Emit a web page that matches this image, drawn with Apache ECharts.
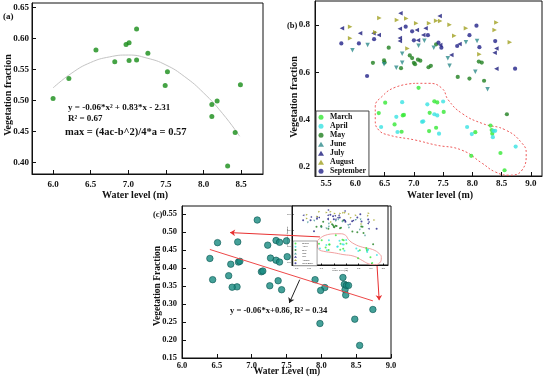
<!DOCTYPE html>
<html><head><meta charset="utf-8">
<script src="https://cdn.jsdelivr.net/npm/echarts@6/dist/echarts.min.js"></script>
<style>html,body{margin:0;padding:0;background:#fff}#c{width:550px;height:378px}</style>
</head><body><div id="c"></div>
<script>
// ---------- Panel (a) ----------
const aX = [6.00,6.21,6.57,6.82,6.97,7.01,7.01,7.11,7.11,7.26,7.49,7.52,8.11,8.11,8.18,8.32,8.42,8.49];
const aY = [0.503,0.535,0.581,0.562,0.590,0.593,0.564,0.615,0.565,0.576,0.524,0.546,0.474,0.493,0.499,0.394,0.448,0.525];
const aFitX = [6.00,6.25,6.50,6.75,7.00,7.25,7.50,7.75,8.00,8.25,8.48];
const aFitY = [0.520,0.544,0.561,0.570,0.573,0.568,0.557,0.538,0.512,0.479,0.442];
const aXTicks = [6.0,6.5,7.0,7.5,8.0,8.5];
const aYTicks = [0.40,0.45,0.50,0.55,0.60,0.65];

// ---------- Panel (b) ----------
const months = ['March','April','May','June','July','August','September'];
const marchX = [6.40,6.51,6.67,6.79,6.81,6.83,7.08,7.26,7.27,7.35,7.40,7.38,7.51,8.05,7.98,8.31,8.33,8.34,8.48,8.55];
const marchY = [0.427,0.471,0.379,0.348,0.417,0.419,0.534,0.351,0.428,0.477,0.472,0.365,0.432,0.346,0.246,0.374,0.355,0.340,0.258,0.185];
const aprilX = [6.44,6.70,6.72,6.80,7.14,7.16,7.23,7.35,7.40,7.43,7.50,7.91,7.99,8.36,8.39,8.35,8.74];
const aprilY = [0.368,0.411,0.347,0.473,0.390,0.392,0.464,0.422,0.417,0.340,0.476,0.368,0.338,0.352,0.352,0.325,0.285];
const mayX = [6.57,6.30,6.49,6.50,6.78,6.93,6.97,7.00,7.02,7.07,7.11,7.25,7.29,7.38,7.75,7.95,8.20,8.11,8.16,8.59];
const mayY = [0.704,0.640,0.650,0.641,0.617,0.671,0.660,0.640,0.634,0.653,0.649,0.621,0.627,0.718,0.580,0.573,0.564,0.645,0.641,0.422];
const juneX = [5.95,6.21,6.49,6.70,6.80,6.80,7.08,7.18,7.34,7.58,7.61,7.89,8.08,8.05,8.26];
const juneY = [0.693,0.715,0.634,0.619,0.678,0.640,0.712,0.733,0.704,0.659,0.627,0.727,0.732,0.602,0.528];
const julyX = [5.77,6.08,6.31,6.40,6.77,7.44,6.76,6.76,6.76,7.05,7.16,7.20,7.07,7.45,7.78,7.64,8.38,8.41,8.41];
const julyY = [0.786,0.765,0.765,0.758,0.850,0.838,0.784,0.745,0.732,0.779,0.758,0.786,0.735,0.715,0.720,0.673,0.683,0.615,0.700];
const augustX = [6.41,6.87,6.71,7.38,7.45,7.04,7.26,7.61,8.41,7.89,5.91,5.91,8.38,7.69,8.64,6.89,8.12,6.34];
const augustY = [0.830,0.828,0.821,0.818,0.817,0.807,0.807,0.801,0.811,0.786,0.793,0.744,0.779,0.754,0.727,0.701,0.676,0.769];
const septX = [5.76,6.06,6.32,6.20,6.86,6.97,7.00,7.47,7.74,7.95,8.07,8.12,8.39,8.73,7.24,7.42];
const septY = [0.722,0.722,0.740,0.584,0.793,0.773,0.735,0.704,0.711,0.757,0.797,0.706,0.732,0.615,0.757,0.725];
const regionX = [7.02,6.68,6.45,6.34,6.34,6.40,6.57,7.02,7.37,7.82,8.17,8.39,8.62,8.85,8.92,8.85,8.57,8.17,7.82,7.59,7.48,7.25,7.02];
const regionY = [0.553,0.536,0.496,0.454,0.397,0.355,0.334,0.313,0.292,0.270,0.214,0.178,0.164,0.186,0.256,0.299,0.355,0.383,0.426,0.482,0.532,0.553,0.553];
const bXTicks = [5.5,6.0,6.5,7.0,7.5,8.0,8.5,9.0];
const bYTicks = [0.2,0.4,0.6,0.8];

// ---------- Panel (c) ----------
const cFitX = [6.40,8.74];
const cFitY = [0.452,0.309];
const cArrowsRed = [[[7.98,0.487],[6.69,0.499]],[[8.80,0.406],[8.83,0.311]]];
const cArrowBlack = [[[7.69,0.368],[7.54,0.303]]];
const cXTicks = [6.0,6.5,7.0,7.5,8.0,8.5,9.0];
const cYTicks = [0.15,0.20,0.25,0.30,0.35,0.40,0.45,0.50,0.55];

const colors = {March:'#35e835',April:'#38e2e2',May:'#1f7f1f',June:'#2e8b8b',July:'#1c1c7c',August:'#a0a020',September:'#222288'};
const symbols = {March:'circle',April:'circle',May:'circle',June:'triangle',July:'triangle',August:'triangle',September:'circle'};
const rots = {March:0,April:0,May:0,June:180,July:90,August:-90,September:0};
const mData = {March:[marchX,marchY],April:[aprilX,aprilY],May:[mayX,mayY],June:[juneX,juneY],July:[julyX,julyY],August:[augustX,augustY],September:[septX,septY]};

const FONT = '"Liberation Serif", "Times New Roman", serif';
const zip = (xs, ys) => xs.map((x, i) => [x, ys[i]]);

function ax(gi, min, max, ticks, dec, fs, margin, big=true){
  return {type:'value', gridIndex:gi, min, max, splitLine:{show:false},
    axisLine:{show:true,onZero:false,lineStyle:{color:'#111',width:1}},
    axisTick:{show:true,inside:true,length:big?4:1.5,customValues:ticks,lineStyle:{color:'#111'}},
    axisLabel:{show:true,customValues:ticks,formatter:v=>v.toFixed(dec),fontFamily:FONT,fontWeight:big?'bold':'normal',fontSize:fs,color:'#111',margin}};
}

const series = [];
// (a)
series.push({type:'scatter',xAxisIndex:0,yAxisIndex:0,data:zip(aX,aY),symbolSize:5,itemStyle:{color:'#168c16'},z:3});
series.push({type:'line',xAxisIndex:0,yAxisIndex:0,data:zip(aFitX,aFitY),smooth:true,showSymbol:false,lineStyle:{color:'#c4c4c4',width:1},z:2});
// (b)
months.forEach(m=>{
  series.push({type:'scatter',name:m,xAxisIndex:1,yAxisIndex:1,data:zip(mData[m][0],mData[m][1]),symbol:symbols[m],symbolRotate:rots[m],symbolSize:symbols[m]==='circle'?4.2:4.5,itemStyle:{color:colors[m]},z:3});
});
series.push({type:'line',xAxisIndex:1,yAxisIndex:1,data:zip(regionX,regionY),smooth:0.5,showSymbol:false,lineStyle:{color:'#ee5a5a',width:1,type:[2,2]},z:2});
// inset
months.forEach(m=>{
  series.push({type:'scatter',name:m,xAxisIndex:3,yAxisIndex:3,data:zip(mData[m][0],mData[m][1]),symbol:symbols[m],symbolRotate:rots[m],symbolSize:2,itemStyle:{color:colors[m]},z:7});
});
series.push({type:'line',xAxisIndex:3,yAxisIndex:3,data:zip(regionX,regionY),smooth:0.5,showSymbol:false,lineStyle:{color:'#f0a0a0',width:1},z:6});
// (c)
series.push({type:'scatter',xAxisIndex:2,yAxisIndex:2,data:zip(marchX.concat(aprilX),marchY.concat(aprilY)),symbolSize:6.5,itemStyle:{color:'#178a80',borderColor:'#0c5a55',borderWidth:0.8},z:3});
series.push({type:'line',xAxisIndex:2,yAxisIndex:2,data:zip(cFitX,cFitY),showSymbol:false,lineStyle:{color:'#ee4848',width:1},z:4});
series.push({type:'lines',coordinateSystem:'cartesian2d',xAxisIndex:2,yAxisIndex:2,data:cArrowsRed.map(c=>({coords:c})),symbol:['none','arrow'],symbolSize:5,lineStyle:{color:'#e83030',width:1,opacity:1},z:8});
series.push({type:'lines',coordinateSystem:'cartesian2d',xAxisIndex:2,yAxisIndex:2,data:cArrowBlack.map(c=>({coords:c})),symbol:['none','arrow'],symbolSize:5,lineStyle:{color:'#222',width:1,opacity:1},z:8});

const txt = (left, top, text, fs) => ({type:'text',left,top,style:{text,font:`bold ${fs}px ${FONT}`,fill:'#111'}});
const rtxt = (x, y, text, fs, w='bold') => ({type:'text',x,y,rotation:Math.PI/2,style:{text,font:`${w} ${fs}px ${FONT}`,fill:'#111',align:'center',verticalAlign:'middle'}});
const ctxt = (x, y, text, fs, w='bold') => ({type:'text',x,y,style:{text,font:`${w} ${fs}px ${FONT}`,fill:'#111',align:'center',verticalAlign:'middle'}});

const option = {
  animation:false,
  backgroundColor:'#fff',
  grid:[
    {left:32,top:3,width:231,height:171,show:true,borderColor:'#111',borderWidth:1},
    {left:315,top:1,width:227,height:175,show:true,borderColor:'#111',borderWidth:1},
    {left:182,top:206,width:209,height:152,show:true,borderColor:'#111',borderWidth:1},
    {left:292,top:206,width:96,height:59,show:true,borderColor:'#111',borderWidth:1,backgroundColor:'#fff',z:5}
  ],
  xAxis:[
    ax(0,5.72,8.79,aXTicks,1,9,6),
    ax(1,5.31,9.19,bXTicks,1,9,3),
    ax(2,6.0,9.0,cXTicks,1,8.5,3),
    Object.assign(ax(3,5.31,9.19,bXTicks,1,2.6,1.5,false),{z:6})
  ],
  yAxis:[
    ax(0,0.381,0.657,aYTicks,2,9,3),
    ax(1,0.1606,0.9016,bYTicks,1,9,5),
    ax(2,0.15,0.573,cYTicks,2,8.5,5),
    Object.assign(ax(3,0.1606,0.9016,bYTicks,1,2.6,1.5,false),{z:6})
  ],
  legend:[
    {data:months,orient:'vertical',left:316,top:111,itemWidth:6,itemHeight:5,itemGap:0.6,padding:[2,3,1,2],
     borderColor:'#444',borderWidth:1,backgroundColor:'#fff',selectedMode:false,
     textStyle:{fontFamily:FONT,fontWeight:'bold',fontSize:7.8,lineHeight:8.4,color:'#111',padding:[0,0,0,1]}},
    {data:months,orient:'vertical',left:293,top:241,itemWidth:3,itemHeight:2,itemGap:0.3,padding:[1,4,1,1],
     borderColor:'#444',borderWidth:0.5,backgroundColor:'#fff',selectedMode:false,z:8,
     textStyle:{fontFamily:FONT,fontSize:2.6,lineHeight:2.9,color:'#111',padding:[0,0,0,0]}}
  ],
  series,
  graphic:[
    txt(3,12,'(a)',9),
    rtxt(8,95,'Vegetation fraction',10),
    ctxt(135,195,'Water level (m)',10),
    txt(68,103.5,'y = -0.06*x² + 0.83*x - 2.31',9),
    txt(68,114,'R² = 0.67',9),
    txt(65,126.5,'max = (4ac-b^2)/4*a = 0.57',10.5),
    txt(287,21,'(b)',8.5),
    rtxt(294,97,'Vegetation fraction',10),
    ctxt(440,195,'Water level (m)',10),
    txt(153,210,'(c)',8.5),
    rtxt(158,286,'Vegetation Fraction',9.5),
    ctxt(287,372,'Water Level (m)',9.5),
    txt(230,306,'y = -0.06*x+0.86, R² = 0.34',8.6),
    rtxt(287.5,236,'Vegetation fraction',2.6,'normal'),
    ctxt(340,270.5,'Water level (m)',2.6,'normal')
  ]
};
const chart = echarts.init(document.getElementById('c'),null,{renderer:'canvas'});
chart.setOption(option);
</script></body></html>
